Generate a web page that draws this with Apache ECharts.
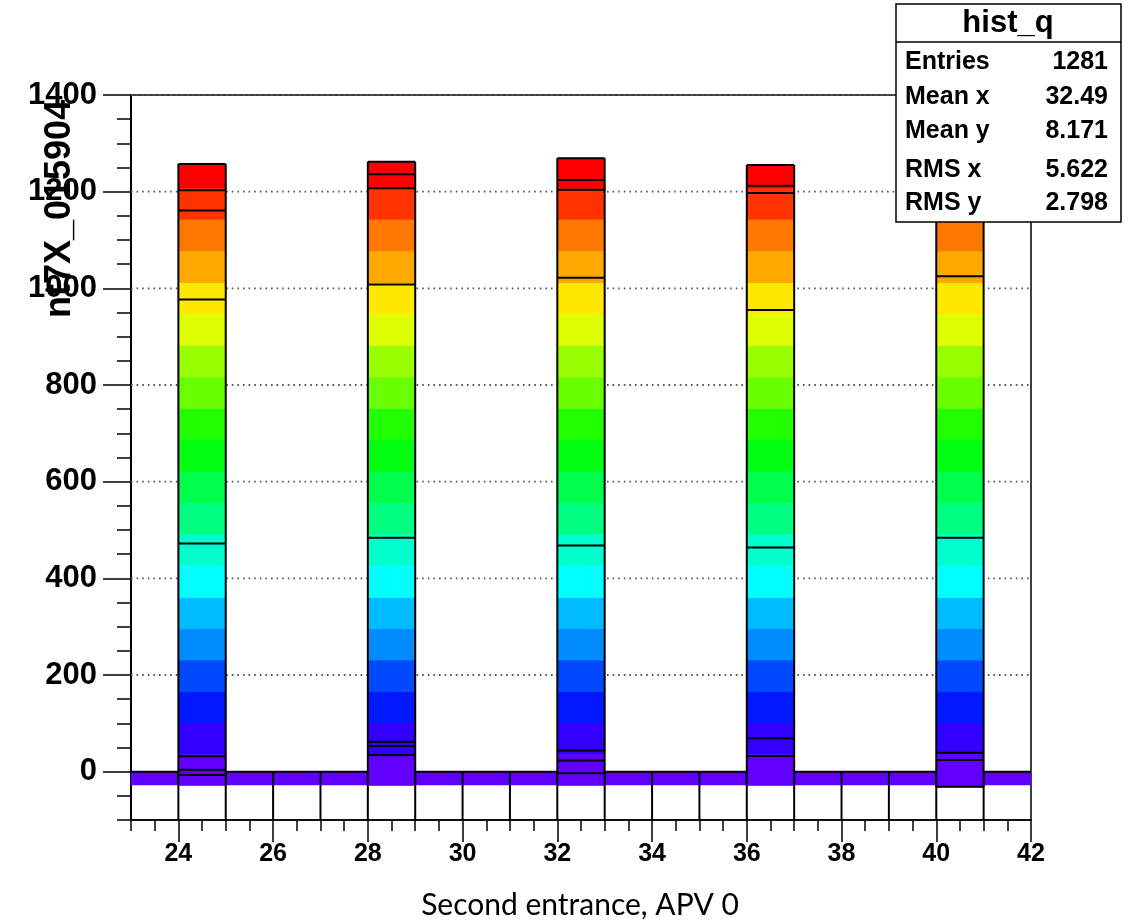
<!DOCTYPE html>
<html><head><meta charset="utf-8">
<script src="https://cdn.jsdelivr.net/npm/echarts@6/dist/echarts.min.js"></script>
<style>html,body{margin:0;padding:0;background:#fff}#c{width:1138px;height:923px}</style>
</head><body><div id="c"></div>
<script>
// ---- data ----
const barX = [24, 28, 32, 36, 40];                 // bin low edges of filled columns
const barTop = [1257, 1262, 1269, 1255, 1250];
const barBottom = [-28, -28, -28, -28, -31];
const barLines = [
  [1203, 1161, 977, 472, 32, 4, -7],
  [1236, 1207, 1008, 484, 62, 53, 34.5],
  [1224, 1204, 1022, 468, 44, 23, -3.4],
  [1212, 1197, 955, 464, 69, 32.5],
  [1200, 1025, 484, 39, 24, -31]
];
const levelEdges = [-35, 36, 101, 166, 231, 296, 361, 427, 492, 557, 622, 687, 752, 817, 882, 947, 1012, 1078, 1143, 1208, 1290];
const levelColors = ['#6100ff', '#3200ff', '#0019ff', '#0049ff', '#008cff', '#00bbff', '#00ffff', '#00ffcc', '#00ff80', '#00ff4c',
                     '#00ff10', '#22ff00', '#6aff00', '#99ff00', '#ddff00', '#ffe800', '#ffa900', '#ff7800', '#ff3300', '#ff0000'];
const baseBand = [-28, 0];
const binEdges = [24, 25, 26, 27, 28, 29, 30, 31, 32, 33, 34, 35, 36, 37, 38, 39, 40, 41];
const gridValues = [200, 400, 600, 800, 1000, 1200, 1400];
const yTickLabels = [0, 200, 400, 600, 800, 1000, 1200, 1400];
const xTickLabels = [24, 26, 28, 30, 32, 34, 36, 38, 40, 42];
const statsTitle = 'hist_q';
const statsNames = ['Entries', 'Mean x', 'Mean y', 'RMS x', 'RMS y'];
const statsValues = ['1281', '32.49', '8.171', '5.622', '2.798'];
const yTitle = 'nt7X_015904';
const xCaption = 'Second entrance, APV 0';

const xMin = 23, xMax = 42, yMin = -100, yMax = 1400;
const FONT = 'Liberation Sans';

const chart = echarts.init(document.getElementById('c'), null, {renderer: 'canvas'});

function seg(p0, p1, style) {
  return {type: 'line', shape: {x1: p0[0], y1: p0[1], x2: p1[0], y2: p1[1]}, style: style};
}
const blk = {stroke: '#000', lineWidth: 2};

const rowY = [62, 97, 131, 170, 203];
const boxEls = [
  {type: 'rect', z: 100, shape: {x: 896, y: 4, width: 225, height: 218}, style: {fill: '#fff', stroke: '#000', lineWidth: 1.5}},
  {type: 'line', z: 101, shape: {x1: 896, y1: 42, x2: 1121, y2: 42}, style: {stroke: '#000', lineWidth: 1.5}},
  {type: 'text', z: 101, x: 1008, y: 23, style: {text: statsTitle, font: 'bold 31px "Liberation Sans"', fill: '#000', textAlign: 'center', textVerticalAlign: 'middle'}}
].concat(
  statsNames.map((n, i) => ({type: 'text', z: 101, x: 905, y: rowY[i],
    style: {text: n, font: 'bold 25px "Liberation Sans"', fill: '#000', textAlign: 'left', textVerticalAlign: 'middle'}})),
  statsValues.map((v, i) => ({type: 'text', z: 101, x: 1108, y: rowY[i],
    style: {text: v, font: 'bold 25px "Liberation Sans"', fill: '#000', textAlign: 'right', textVerticalAlign: 'middle'}}))
);

const option = {
  animation: false,
  backgroundColor: '#fff',
  grid: {left: 131, top: 95, width: 900, height: 725, show: true, borderColor: '#000', borderWidth: 1.5, backgroundColor: 'transparent'},
  xAxis: [
    {type: 'value', min: xMin, max: xMax, interval: 0.5, position: 'bottom',
     axisLine: {onZero: false, lineStyle: {color: '#000', width: 1.5}},
     axisTick: {length: 11, lineStyle: {color: '#000', width: 1.5}},
     axisLabel: {show: false}, splitLine: {show: false}},
    {type: 'value', min: xMin, max: xMax, position: 'bottom', gridIndex: 0,
     axisLine: {show: false, onZero: false},
     axisTick: {customValues: xTickLabels, length: 22, lineStyle: {color: '#000', width: 1.5}},
     axisLabel: {customValues: xTickLabels, fontSize: 25, fontWeight: 'bold', fontFamily: FONT, color: '#000', margin: 22,
                 formatter: v => String(v)},
     splitLine: {show: false}}
  ],
  yAxis: [
    {type: 'value', min: yMin, max: yMax, interval: 50, position: 'left',
     axisLine: {onZero: false, lineStyle: {color: '#000', width: 2}},
     axisTick: {length: 14, lineStyle: {color: '#000', width: 1.5}},
     axisLabel: {show: false}, splitLine: {show: false}},
    {type: 'value', min: yMin, max: yMax, position: 'left', gridIndex: 0,
     axisLine: {show: false, onZero: false},
     axisTick: {customValues: yTickLabels, length: 28, lineStyle: {color: '#000', width: 1.5}},
     axisLabel: {customValues: yTickLabels, fontSize: 31, fontWeight: 'bold', fontFamily: FONT, color: '#000', margin: 34,
                 formatter: v => String(v)},
     splitLine: {show: false}}
  ],
  series: [
    { // dotted grid lines
      type: 'custom', z: 1, silent: true,
      data: gridValues.map(v => [xMin, v]),
      encode: {x: 0, y: 1},
      renderItem: (params, api) => {
        const y = api.value(1);
        return seg(api.coord([xMin, y]), api.coord([xMax, y]), {stroke: '#555', lineWidth: 1.8, lineDash: [1.6, 4]});
      }
    },
    { // base band along the bottom
      type: 'custom', z: 2, silent: true,
      data: [[xMin, baseBand[0]]],
      encode: {x: 0, y: 1},
      renderItem: (params, api) => {
        const ch = [];
        const a = api.coord([xMin, baseBand[1]]), b = api.coord([xMax, baseBand[0]]);
        ch.push({type: 'rect', shape: {x: a[0], y: a[1], width: b[0] - a[0], height: b[1] - a[1]}, style: {fill: levelColors[0]}});
        binEdges.forEach(e => ch.push(seg(api.coord([e, yMin]), api.coord([e, baseBand[1]]), blk)));
        let start = xMin;
        const sorted = barX.slice().sort((p, q) => p - q);
        sorted.forEach(x => {
          if (x > start) ch.push(seg(api.coord([start, baseBand[1]]), api.coord([x, baseBand[1]]), blk));
          start = x + 1;
        });
        if (start < xMax) ch.push(seg(api.coord([start, baseBand[1]]), api.coord([xMax, baseBand[1]]), blk));
        return {type: 'group', children: ch};
      }
    },
    { // coloured columns (colour by level)
      type: 'custom', z: 3, silent: true,
      data: barX.map((x, i) => [x, barTop[i], barBottom[i]]),
      encode: {x: 0, y: 1},
      renderItem: (params, api) => {
        const x0 = api.value(0), top = api.value(1), bot = api.value(2);
        const ch = [];
        for (let k = 0; k < levelColors.length; k++) {
          const lo = Math.max(levelEdges[k], bot), hi = Math.min(levelEdges[k + 1], top);
          if (hi <= lo) continue;
          const p0 = api.coord([x0, hi]), p1 = api.coord([x0 + 1, lo]);
          ch.push({type: 'rect', shape: {x: p0[0], y: p0[1], width: p1[0] - p0[0], height: p1[1] - p0[1] + 0.5}, style: {fill: levelColors[k]}});
        }
        return {type: 'group', children: ch};
      }
    },
    { // column outlines
      type: 'custom', z: 4, silent: true,
      data: barX.map((x, i) => [x, barTop[i], barBottom[i], i]),
      encode: {x: 0, y: 1},
      renderItem: (params, api) => {
        const x0 = api.value(0), top = api.value(1), bot = api.value(2), i = api.value(3);
        const ch = [];
        ch.push(seg(api.coord([x0, bot]), api.coord([x0, top]), blk));
        ch.push(seg(api.coord([x0 + 1, bot]), api.coord([x0 + 1, top]), blk));
        ch.push(seg(api.coord([x0, top]), api.coord([x0 + 1, top]), blk));
        barLines[i].forEach(v => ch.push(seg(api.coord([x0, v]), api.coord([x0 + 1, v]), blk)));
        return {type: 'group', children: ch};
      }
    }
  ],
  graphic: [
    {type: 'text', x: 60, y: 318, rotation: Math.PI / 2, z: 50,
     style: {text: yTitle, font: 'bold 36px "Liberation Sans"', fill: '#000', textAlign: 'left', textVerticalAlign: 'middle'}},
    {type: 'text', x: 580, y: 905, z: 50,
     style: {text: xCaption, font: '30px Lato', fill: '#000', textAlign: 'center', textVerticalAlign: 'middle'}}
  ].concat(boxEls)
};
chart.setOption(option);
</script>
</body></html>
